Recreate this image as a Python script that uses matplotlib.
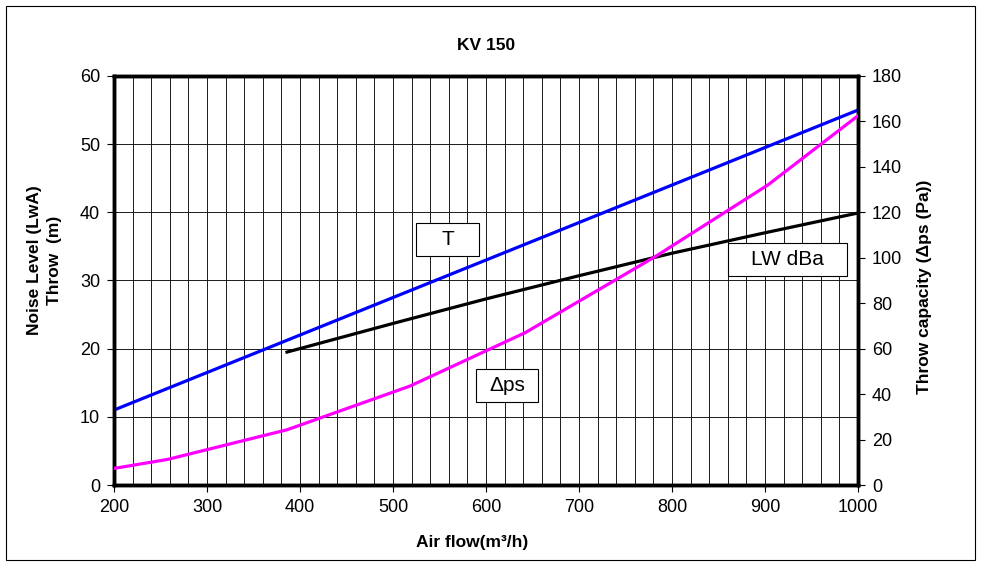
import matplotlib
matplotlib.use("Agg")
import matplotlib.pyplot as plt
from matplotlib.patches import Rectangle
from matplotlib.ticker import MultipleLocator

plt.rcParams['font.family'] = ['Liberation Sans', 'DejaVu Sans']

# throw T (m), left axis
t_flow = [200, 1000]
t_throw = [11.0, 55.0]

# noise level LW dBa, left axis
lw_flow = [386, 500, 600, 700, 800, 900, 1000]
lw_level = [19.5, 23.7, 27.3, 30.7, 34.0, 37.0, 39.9]

# pressure drop (Pa), right axis
dp_flow = [200, 258, 386, 518, 642, 782, 903, 1000]
dp_pa = [7.3, 11.3, 24.3, 43.5, 67.0, 100.5, 132.0, 162.5]

fig = plt.figure(figsize=(9.82, 5.67), dpi=100)
ax = fig.add_axes([0.1161, 0.1446, 0.7576, 0.7214])
ax2 = ax.twinx()

# outer frame of the chart
fig.patches.append(Rectangle((6 / 982, 7 / 567), 969 / 982, 554 / 567,
                             transform=fig.transFigure, fill=False,
                             edgecolor="black", linewidth=0.8))

ax.set_xlim(200, 1000)
ax.set_ylim(0, 60)
ax2.set_ylim(0, 180)

ax.xaxis.set_major_locator(MultipleLocator(100))
ax.xaxis.set_minor_locator(MultipleLocator(20))
ax.yaxis.set_major_locator(MultipleLocator(10))
ax2.yaxis.set_major_locator(MultipleLocator(20))

ax.grid(which="both", axis="x", color="#1a1a1a", linewidth=0.7)
ax.grid(which="major", axis="y", color="#1a1a1a", linewidth=0.7)
ax.set_axisbelow(True)

ax.plot(t_flow, t_throw, color="#0000FF", linewidth=2.3, zorder=3)
ax.plot(lw_flow, lw_level, color="black", linewidth=2.3, zorder=3)
ax2.plot(dp_flow, dp_pa, color="#FF00FF", linewidth=2.3, zorder=3)

for a in (ax, ax2):
    for s in a.spines.values():
        s.set_linewidth(2.5)
ax.tick_params(which="major", direction="out", length=5, width=0.8,
               labelsize=13, pad=5)
ax.tick_params(which="minor", length=0)
ax2.tick_params(direction="out", length=5, width=0.8, labelsize=13, pad=5)

# text boxes
boxes = [("T", 524.7, 33.6, 67.8, 4.8),
         ("LW dBa", 860.2, 30.7, 128.0, 4.8),
         ("\u0394ps", 589.2, 12.2, 66.7, 4.8)]
for label, x0, y0, w, h in boxes:
    ax.add_patch(Rectangle((x0, y0), w, h, facecolor="white",
                           edgecolor="black", linewidth=0.8, zorder=4))
    ax.text(x0 + w / 2, y0 + h / 2, label, ha="center", va="center",
            fontsize=15, zorder=5)

ax.set_title("KV 150", fontsize=12.5, fontweight="bold", y=1.064, pad=0)
ax.set_xlabel("Air flow(m\u00b3/h)", fontsize=12.5, fontweight="bold")
ax.xaxis.set_label_coords(0.481, -0.122)
ax.set_ylabel("Noise Level (LwA)\nThrow  (m)", fontsize=12.5,
              fontweight="bold", linespacing=1.45)
ax.yaxis.set_label_coords(-0.07, 0.55)
ax2.set_ylabel("Throw capacity (\u0394ps (Pa))", fontsize=12.5,
               fontweight="bold")
ax2.yaxis.set_label_coords(1.079, 0.484)

fig.savefig("out.png", dpi=100)
